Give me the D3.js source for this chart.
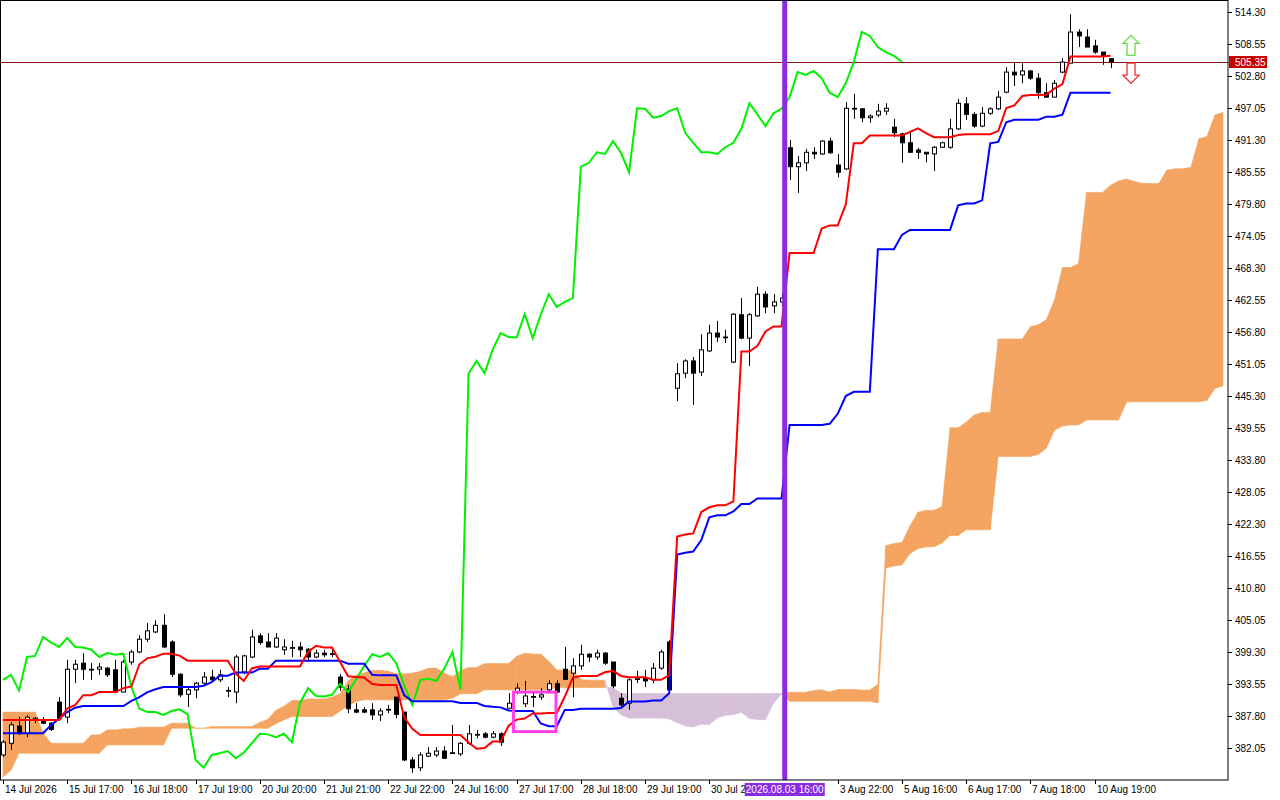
<!DOCTYPE html>
<html>
<head>
<meta charset="utf-8">
<script src="https://cdn.jsdelivr.net/npm/d3@7"></script>
<style>
  body { margin: 0; background: #fff; }
  text { font-family: "Liberation Sans", Arial, sans-serif; font-size: 10px; }
</style>
</head>
<body>
<div id="chart"></div>
<script>
// candles: [open, high, low, close]
var candles = [
  [380.8,383.5,380.4,383.1],[382.9,386.7,381.7,386.2],[386.0,387.6,384.4,384.7],[384.7,387.9,384.0,387.6],
  [387.1,387.6,386.5,387.4],[387.1,387.6,386.3,386.5],[386.5,386.7,385.1,385.4],[390.3,391.2,387.1,387.4],
  [387.6,397.9,386.5,396.2],[396.2,397.9,393.7,397.1],[397.3,399.1,394.3,396.2],[396.2,397.3,394.3,396.1],
  [396.2,397.3,395.2,396.6],[396.4,396.6,394.8,395.2],[396.1,397.9,391.9,392.1],[392.1,397.9,392.1,397.5],
  [397.5,399.7,397.0,399.3],[399.3,402.3,399.1,401.6],[401.6,404.5,401.1,403.1],[402.9,405.0,402.7,404.1],
  [404.1,406.1,400.0,400.2],[401.1,401.4,394.8,395.3],[395.3,395.5,391.2,391.6],[391.7,393.0,389.4,392.5],
  [392.5,393.9,391.0,393.7],[393.7,395.7,393.4,394.8],[394.8,396.1,393.9,394.3],[394.3,396.1,393.9,395.2],
  [392.3,393.0,391.2,392.4],[392.1,398.8,390.1,398.4],[395.7,398.8,395.3,398.6],[398.4,403.3,398.2,402.0],
  [402.2,402.7,400.6,401.0],[401.1,402.7,400.2,400.2],[400.2,402.7,400.0,401.8],[399.7,401.6,398.8,400.2],
  [400.0,401.3,398.4,400.1],[400.2,401.1,398.4,399.7],[399.8,400.0,397.5,398.4],[398.4,399.7,398.2,399.1],
  [399.1,399.7,398.4,398.8],[398.9,399.8,398.4,399.0],[394.8,395.3,392.3,393.0],[392.6,393.4,388.3,389.1],
  [388.9,390.1,388.3,388.5],[388.9,389.4,388.3,388.5],[388.9,390.1,387.1,388.0],[388.0,389.2,386.9,388.7],
  [388.9,389.8,388.3,389.0],[391.2,391.2,387.4,388.1],[388.5,388.5,379.7,379.9],[379.9,380.4,377.6,378.5],
  [378.5,381.3,377.9,380.8],[380.6,382.2,380.4,381.1],[380.8,382.2,380.4,381.5],[381.5,382.4,380.2,380.2],
  [381.1,386.2,381.0,381.2],[381.0,383.1,380.6,382.9],[382.9,386.2,382.6,384.6],[384.4,385.3,383.8,384.5],
  [384.6,384.9,383.8,384.0],[384.0,385.1,383.8,384.6],[384.6,384.9,382.4,383.1],[389.2,391.9,389.2,390.1],
  [392.1,393.7,391.7,392.8],[390.0,394.1,389.4,391.4],[391.2,392.1,389.4,391.3],[391.2,392.8,390.7,391.6],
  [392.5,394.3,392.1,393.6],[393.6,394.3,391.9,392.1],[396.2,400.2,394.3,394.4],[395.5,398.2,391.2,396.8],
  [396.8,400.6,396.1,398.9],[398.9,399.1,397.5,398.4],[398.4,399.7,397.9,399.1],[399.1,399.3,397.0,397.3],
  [397.5,397.5,392.8,393.2],[391.0,391.9,389.4,389.8],[390.1,394.6,388.9,394.3],[394.4,395.9,393.7,394.5],
  [394.6,396.1,393.0,394.1],[394.3,397.3,393.7,396.4],[396.4,399.7,396.1,399.3],[401.1,401.4,392.5,392.5],
  [446.7,451.2,444.4,449.3],[449.4,451.9,448.5,451.6],[451.6,452.3,443.7,449.4],[449.6,456.4,448.9,453.6],
  [453.4,458.1,453.2,456.6],[456.6,458.8,455.0,455.9],[455.9,457.2,454.8,455.8],[451.4,460.2,451.2,460.0],
  [459.9,462.9,455.5,455.7],[455.7,460.2,450.7,459.9],[459.7,464.9,459.5,463.6],[463.6,464.1,460.2,461.3],
  [461.5,463.6,460.2,462.2],[462.2,463.8,461.3,462.9],[489.9,491.3,484.1,486.5],[486.5,488.4,481.8,487.2],
  [487.2,489.7,485.7,489.1],[489.1,490.0,487.9,488.8],[488.8,491.3,488.6,491.1],[491.1,491.7,488.8,489.0],
  [486.8,488.8,484.6,485.5],[486.1,498.1,485.9,497.0],[497.0,499.6,495.1,496.9],[496.9,497.0,494.5,495.3],
  [495.3,495.9,494.4,495.6],[495.8,497.8,495.4,496.5],[496.5,497.9,495.8,497.0],[493.6,495.1,491.8,492.6],
  [492.4,492.6,487.2,490.8],[490.8,492.7,489.0,489.1],[489.5,489.9,487.9,489.1],[489.1,489.1,487.3,488.8],
  [488.8,490.2,485.7,490.0],[490.0,491.0,489.9,490.8],[490.0,495.1,489.7,493.3],[493.3,498.7,493.1,497.9],
  [497.8,499.0,494.9,495.9],[495.9,496.3,493.5,493.8],[493.8,497.2,493.6,496.1],[496.1,497.2,495.8,496.9],
  [496.9,500.1,496.7,499.0],[499.9,504.4,499.7,503.5],[503.5,505.3,501.0,503.0],[503.0,505.1,501.5,503.7],
  [503.7,503.9,502.1,502.4],[502.4,503.3,498.7,499.8],[499.8,501.5,499.0,499.0],[499.0,502.1,499.0,501.5],
  [503.5,506.0,503.3,505.3],[505.1,513.9,505.1,510.7],[510.7,511.2,508.0,510.0],[509.8,511.2,508.0,508.0],
  [508.2,509.3,506.8,507.1],[507.1,507.1,504.8,506.4],[505.9,506.0,504.2,505.35]
];

// indicator values before enough history exists
var tenkanHead = [387.1,387.1,387.1,387.1,387.1,387.1,387.1,387.1];
var kijunHead = [384.7,384.7,384.7,384.7,384.7,384.7,386.2,387.3,388.5,389.3,389.6,389.6,389.6,
  389.6,389.6,389.6,390.5,391.2,392.1,392.6,393.0,393.0,393.0,393.0,393.0];
var spanAHead = [388.5,388.5,388.5,388.5,388.5,384.7,382.9,382.9,382.9,382.9,382.9,384.4,384.4,
  385.3,385.3,385.5,385.5,385.8,385.8,385.8,385.8,386.5,386.5,386.5,385.6,385.6];
var spanBHead = [376.8,378.1,
  381.1,381.1,381.1,381.1,381.1,381.1,381.1,381.1,381.1,381.1,381.1,
  382.6,382.6,382.6,382.6,382.6,382.6,382.6,382.6,
  385.6,385.6,385.6,385.6,385.6,385.6,385.6,385.6,385.6,385.6,385.6,385.6,385.6,
  386.4,387.1,387.7,387.7,387.7,387.7,387.7,387.7,388.7,389.6,390.4,
  390.7,390.7,390.7,390.7,390.7,390.7,390.7,390.7,390.7,390.7,390.7,
  391.0,391.8,391.8,391.8,
  392.5,392.5,392.5,392.5,392.5,392.5,392.5,392.5,392.5,
  392.9,392.9,392.9,392.9,392.9,392.9,392.9,392.9];

var priceTicks = [514.30,508.55,502.80,497.05,491.30,485.55,479.80,474.05,468.30,462.55,456.80,
  451.05,445.30,439.55,433.80,428.05,422.30,416.55,410.80,405.05,399.30,393.55,387.80,382.05];
var timeBars = [0,8,16,24,32,40,48,56,64,72,80,88,104,112,120,128,136];
var timeLabels = ["14 Jul 2026","15 Jul 17:00","16 Jul 18:00","17 Jul 19:00","20 Jul 20:00",
  "21 Jul 21:00","22 Jul 22:00","24 Jul 16:00","27 Jul 17:00","28 Jul 18:00","29 Jul 19:00",
  "30 Jul 20:00","3 Aug 22:00","5 Aug 16:00","6 Aug 17:00","7 Aug 18:00","10 Aug 19:00"];
var lastPrice = 505.35;
var markerBar = 97.4, markerLabel = "2026.08.03 16:00";
var boxBars = [63.6, 68.9], boxPrices = [385.0, 392.1];

var W = 1280, H = 800, plotR = 1228, plotB = 780;
var svg = d3.select('#chart').append('svg').attr('width', W).attr('height', H);

var x = d3.scaleLinear().domain([0, 153]).range([3, 1231]);
var y = d3.scaleLinear().domain([382.05, 514.30]).range([748, 12]);

function midRange(i, n) {
  var s = candles.slice(Math.max(0, i - n + 1), i + 1);
  return (d3.max(s, function (c) { return c[1]; }) + d3.min(s, function (c) { return c[2]; })) / 2;
}
var n = candles.length;
var tenkan = d3.range(n).map(function (i) { return i < tenkanHead.length ? tenkanHead[i] : midRange(i, 9); });
var kijun = d3.range(n).map(function (i) { return i < kijunHead.length ? kijunHead[i] : midRange(i, 26); });
var spanA = d3.range(n + 26 - 12).map(function (j) {
  return j < spanAHead.length ? spanAHead[j] : (tenkan[j - 26] + kijun[j - 26]) / 2;
});
var spanB = spanA.map(function (d, j) {
  return j < spanBHead.length ? spanBHead[j] : midRange(j - 26, 52);
});
var chikou = d3.range(n - 26).map(function (i) { return candles[i + 26][3]; });

var plot = svg.append('g');
plot.append('defs').append('clipPath').attr('id', 'clip')
  .append('rect').attr('width', plotR).attr('height', plotB);
var g = plot.append('g').attr('clip-path', 'url(#clip)');

// cloud
var seg = d3.area().x(function (d) { return x(d.i); })
  .y0(function (d) { return y(d.b); }).y1(function (d) { return y(d.a); });
for (var j = 0; j < spanA.length - 1; j++) {
  var up = (spanA[j] + spanA[j + 1]) >= (spanB[j] + spanB[j + 1]);
  g.append('path')
    .attr('d', seg([{ i: j, a: spanA[j], b: spanB[j] }, { i: j + 1, a: spanA[j + 1], b: spanB[j + 1] }]))
    .attr('fill', up ? '#F4A460' : '#D6BFD8')
    .attr('stroke', up ? '#F4A460' : '#D6BFD8').attr('stroke-width', 0.6);
}

// price line
g.append('line').attr('x1', 0).attr('x2', plotR)
  .attr('y1', Math.round(y(lastPrice)) + 0.5).attr('y2', Math.round(y(lastPrice)) + 0.5)
  .attr('stroke', '#8B1010').attr('stroke-width', 1);

// candles
var cg = g.append('g').selectAll('g').data(candles).enter().append('g');
cg.append('line')
  .attr('x1', function (d, i) { return Math.round(x(i)) + 0.5; })
  .attr('x2', function (d, i) { return Math.round(x(i)) + 0.5; })
  .attr('y1', function (d) { return y(d[1]); })
  .attr('y2', function (d) { return y(d[2]); })
  .attr('stroke', '#000');
cg.append('rect')
  .attr('x', function (d, i) { return Math.round(x(i)) - 2 + 0.5; })
  .attr('width', 4)
  .attr('y', function (d) { return y(Math.max(d[0], d[3])); })
  .attr('height', function (d) { return Math.max(0.8, Math.abs(y(d[0]) - y(d[3]))); })
  .attr('fill', function (d) { return d[3] >= d[0] ? '#fff' : '#000'; })
  .attr('stroke', '#000');

// indicator lines
function drawLine(data, color) {
  g.append('path').datum(data)
    .attr('d', d3.line().x(function (d, i) { return x(i); }).y(function (d) { return y(d); }))
    .attr('fill', 'none').attr('stroke', color).attr('stroke-width', 2);
}
drawLine(chikou, '#00F000');
drawLine(kijun, '#0000FF');
drawLine(tenkan, '#FF0000');

// highlight box
g.append('rect')
  .attr('x', x(boxBars[0])).attr('width', x(boxBars[1]) - x(boxBars[0]))
  .attr('y', y(boxPrices[1])).attr('height', y(boxPrices[0]) - y(boxPrices[1]))
  .attr('fill', 'none').attr('stroke', '#FF40E6').attr('stroke-width', 3);

// arrows
function arrow(cx, cy, dir, stroke) {
  var pts = [[0,-10],[8,-2],[4,-2],[4,10],[-4,10],[-4,-2],[-8,-2]];
  g.append('path')
    .attr('d', 'M' + pts.map(function (p) { return (cx + p[0]) + ',' + (cy + dir * p[1]); }).join('L') + 'Z')
    .attr('fill', '#fff').attr('stroke', stroke).attr('stroke-width', 1.3);
}
arrow(Math.round(x(140.5)), y(508.3), 1, '#66DD44');
arrow(Math.round(x(140.5)), y(503.3), -1, '#EE3333');

// marker line
g.append('line').attr('x1', x(markerBar)).attr('x2', x(markerBar)).attr('y1', 0).attr('y2', plotB)
  .attr('stroke', '#8A2BE2').attr('stroke-width', 5);

// frame
svg.append('rect').attr('x', 0.5).attr('y', 0.5).attr('width', plotR - 0.5).attr('height', plotB - 0.5)
  .attr('fill', 'none').attr('stroke', '#000');

// right axis
var ya = svg.append('g').attr('transform', 'translate(' + plotR + ',0)')
  .call(d3.axisRight(y).tickValues(priceTicks).tickFormat(d3.format('.2f')).tickSize(4).tickPadding(3));
ya.select('.domain').remove();
ya.selectAll('text').attr('font-size', 10).attr('fill', '#000');

// bottom axis
var xa = svg.append('g').attr('transform', 'translate(0,' + plotB + ')');
xa.selectAll('line').data(timeBars).enter().append('line')
  .attr('x1', function (d) { return Math.round(x(d)) + 0.5; })
  .attr('x2', function (d) { return Math.round(x(d)) + 0.5; })
  .attr('y1', 0).attr('y2', 4).attr('stroke', '#000');
xa.selectAll('text').data(timeBars).enter().append('text')
  .attr('x', function (d) { return Math.round(x(d)) + 2; })
  .attr('y', 13).text(function (d, i) { return timeLabels[i]; });

// price label
var py = Math.round(y(lastPrice));
svg.append('rect').attr('x', plotR + 1).attr('y', py - 6).attr('width', 38).attr('height', 12).attr('fill', '#C80000');
svg.append('text').attr('x', plotR + 7).attr('y', py + 4).attr('fill', '#fff').text(d3.format('.2f')(lastPrice));

// marker label
var mx = x(markerBar);
svg.append('rect').attr('x', mx - 40).attr('y', plotB + 3).attr('width', 80).attr('height', 13).attr('fill', '#8A2BE2');
svg.append('text').attr('x', mx).attr('y', plotB + 13).attr('text-anchor', 'middle').attr('fill', '#fff').text(markerLabel);
</script>
</body>
</html>
